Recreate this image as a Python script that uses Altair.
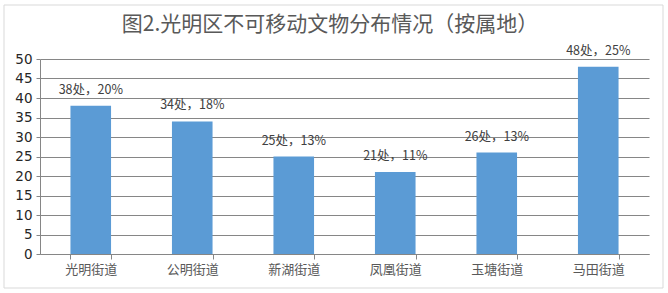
import altair as alt
import pandas as pd

categories = ["光明街道", "公明街道", "新湖街道", "凤凰街道", "玉塘街道", "马田街道"]
counts = [38, 34, 25, 21, 26, 48]
labels = ["38处，20%", "34处，18%", "25处，13%", "21处，11%", "26处，13%", "48处，25%"]
title_text = "图2.光明区不可移动文物分布情况（按属地）"
y_ticks = [0, 5, 10, 15, 20, 25, 30, 35, 40, 45, 50]

df = pd.DataFrame({"cat": categories, "n": counts, "lab": labels})

W, H = 609, 195

x_enc = alt.X(
    "cat:N",
    sort=categories,
    title=None,
    scale=alt.Scale(paddingInner=0.6, paddingOuter=0.3),
    axis=alt.Axis(
        labelAngle=0,
        labelFont="Noto Sans CJK SC",
        labelFontSize=13,
        labelColor="#595959",
        labelPadding=4,
        tickBand="extent",
        tickSize=5,
        tickColor="#868686",
        domainColor="#868686",
        grid=False,
    ),
)
y_enc = alt.Y(
    "n:Q",
    title=None,
    scale=alt.Scale(domain=[0, 50]),
    axis=alt.Axis(
        values=y_ticks,
        labelOverlap=False,
        labelFont="DejaVu Sans",
        labelFontSize=13.5,
        labelColor="#262626",
        labelPadding=4,
        tickSize=4,
        tickColor="#868686",
        domainColor="#868686",
        gridColor="#868686",
        gridWidth=1,
    ),
)

base = alt.Chart(df)

bars = base.mark_bar(color="#5B9BD5").encode(x=x_enc, y=y_enc)

text = base.mark_text(
    dy=-16, baseline="middle", font="Noto Sans CJK SC", fontSize=12.5, color="#404040"
).encode(x=x_enc, y=y_enc, text="lab:N")

title = alt.Chart(pd.DataFrame({"t": [title_text]})).mark_text(
    font="Noto Sans CJK SC", fontSize=21, color="#595959", baseline="middle", align="center"
).encode(x=alt.value(290), y=alt.value(-34), text="t:N")

border = alt.Chart(pd.DataFrame({"t": [0]})).mark_rect(
    fill=None, stroke="#d9d9d9", strokeWidth=1
).encode(x=alt.value(-36), x2=alt.value(623), y=alt.value(-54), y2=alt.value(229))

chart = (
    alt.layer(border, bars, text, title)
    .properties(
        width=W,
        height=H,
        autosize=alt.AutoSizeParams(type="none"),
        padding={"left": 40, "top": 59, "right": 19, "bottom": 39},
        background="white",
    )
    .configure_view(stroke=None)
)

chart.save("out.html", embed_options={"renderer": "svg", "actions": False})
